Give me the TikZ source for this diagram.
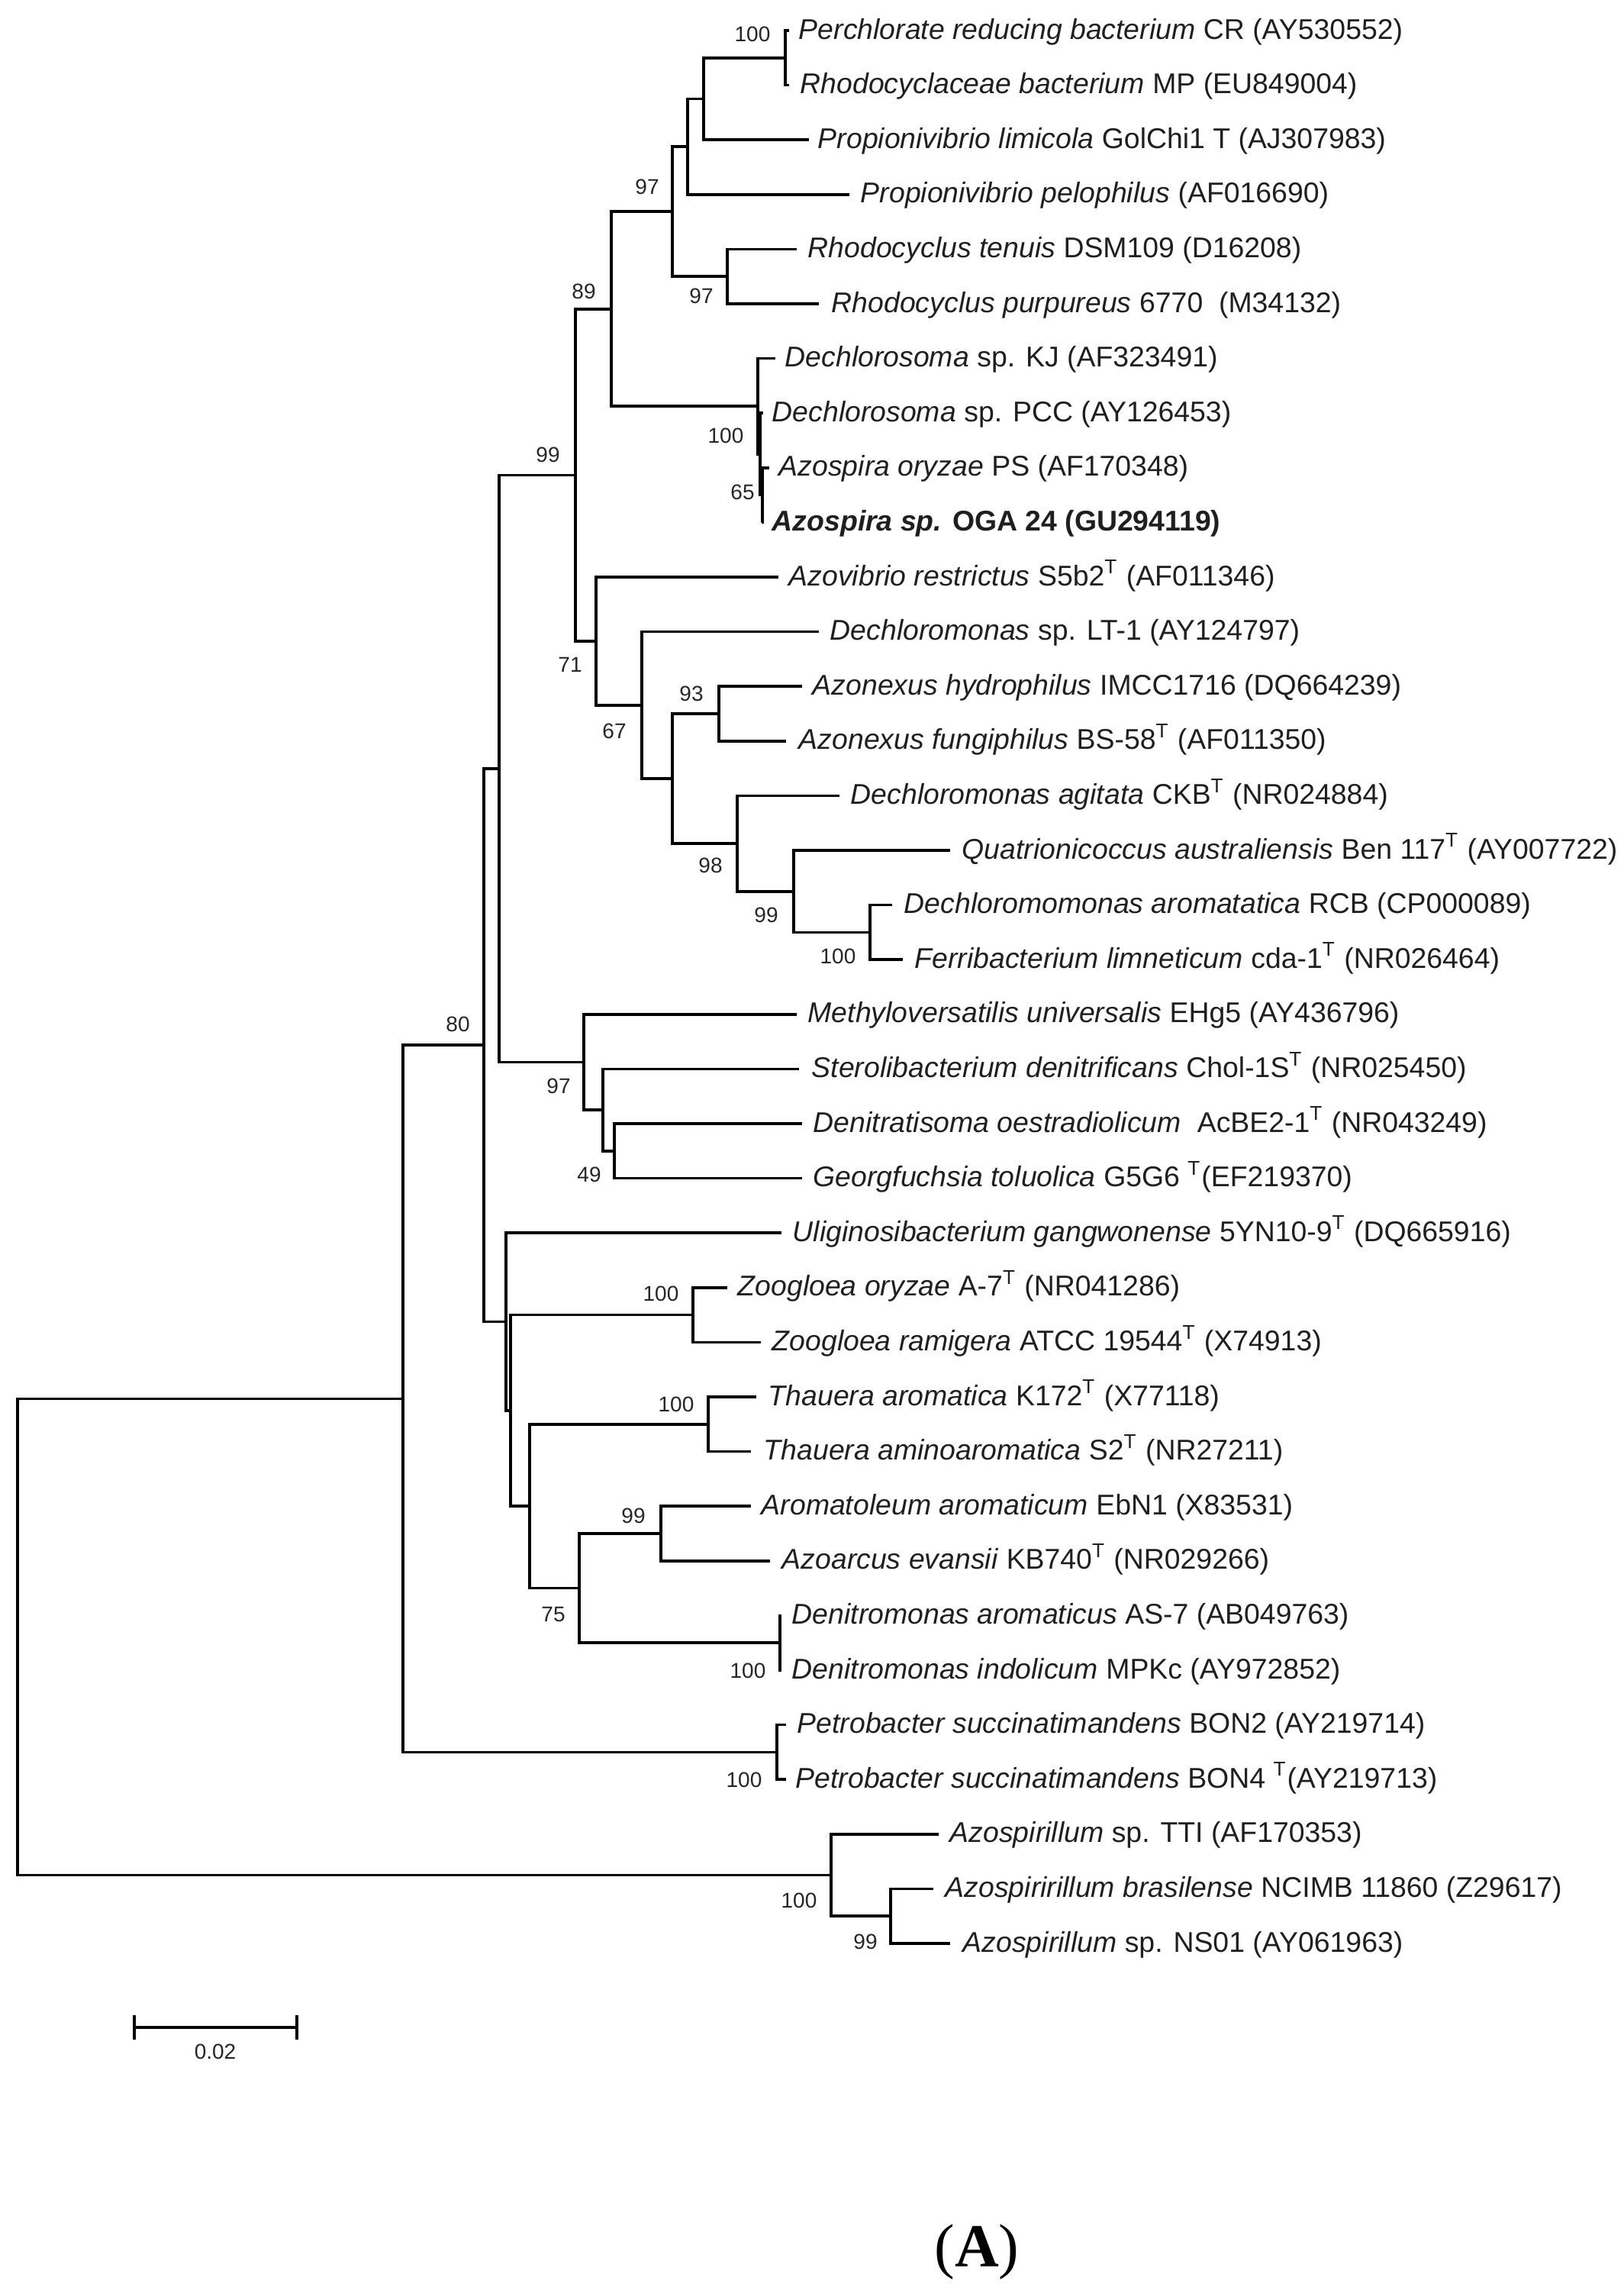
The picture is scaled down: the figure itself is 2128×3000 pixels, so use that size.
\documentclass[tikz,border=0pt]{standalone}
\usepackage{fontspec}
\setmainfont{Liberation Sans}
\newfontfamily\serifA{Liberation Serif}
\newcommand\leaffont{\fontsize{9.35}{11}\selectfont}
\newcommand\bsfont{\fontsize{7}{8}\selectfont}
\newcommand\supT{\textsuperscript{T}}
\begin{document}
\begin{tikzpicture}[x={(0.25pt,0)},y={(0,-0.25pt)},
  br/.style={line width=0.9pt,black},
  lbl/.style={anchor=west,inner sep=0pt,font=\leaffont,text=black!88,text height=0.75em,text depth=0.2em},
  bs/.style={inner sep=0pt,font=\bsfont,text=black!85}]
\useasboundingbox (0,0) rectangle (2128,3000);
% leaf tips
\coordinate (l0) at (1034,40);
\coordinate (l1) at (1034,111.6);
\coordinate (l2) at (1060,183.2);
\coordinate (l3) at (1113,254.8);
\coordinate (l4) at (1044,326.4);
\coordinate (l5) at (1073,398);
\coordinate (l6) at (1016,469.6);
\coordinate (l7) at (1000,541.2);
\coordinate (l8) at (1008,612.8);
\coordinate (l9) at (998,684.4);
\coordinate (l10) at (1020,756);
\coordinate (l11) at (1073,827.6);
\coordinate (l12) at (1051,899.2);
\coordinate (l13) at (1030,970.8);
\coordinate (l14) at (1100,1042.4);
\coordinate (l15) at (1245,1114);
\coordinate (l16) at (1169,1185.6);
\coordinate (l17) at (1183,1257.2);
\coordinate (l18) at (1044,1328.8);
\coordinate (l19) at (1047,1400.4);
\coordinate (l20) at (1051,1472);
\coordinate (l21) at (1051,1543.6);
\coordinate (l22) at (1024,1615.2);
\coordinate (l23) at (953,1686.8);
\coordinate (l24) at (997,1758.4);
\coordinate (l25) at (991,1830);
\coordinate (l26) at (984,1901.6);
\coordinate (l27) at (984,1973.2);
\coordinate (l28) at (1009,2044.8);
\coordinate (l29) at (1024,2116.4);
\coordinate (l30) at (1024,2188);
\coordinate (l31) at (1030,2259.6);
\coordinate (l32) at (1030,2331.2);
\coordinate (l33) at (1230,2402.8);
\coordinate (l34) at (1223,2474.4);
\coordinate (l35) at (1245,2546);
% internal nodes
\coordinate (n1) at (1029,75.8);
\coordinate (n2) at (922,129.5);
\coordinate (n3) at (901,192.15);
\coordinate (n4) at (953,362.2);
\coordinate (n5) at (881,277.2);
\coordinate (n6c) at (999,648.6);
\coordinate (n6b) at (996,594.9);
\coordinate (n6) at (993,532.25);
\coordinate (n7) at (801,404.7);
\coordinate (n8) at (942,935);
\coordinate (n9) at (1140,1221.4);
\coordinate (n10) at (1040,1167.7);
\coordinate (n11) at (966,1105.05);
\coordinate (n12) at (881,1020);
\coordinate (n13) at (841,923.8);
\coordinate (n14) at (781,839.9);
\coordinate (n15) at (754,622.3);
\coordinate (n16) at (805,1507.8);
\coordinate (n17) at (790,1454.1);
\coordinate (n18) at (765,1391.45);
\coordinate (n19) at (654,1006.9);
\coordinate (n20) at (908,1722.6);
\coordinate (n21) at (928,1865.8);
\coordinate (n22) at (866,2009);
\coordinate (n23) at (1022,2152.2);
\coordinate (n24) at (759,2080.6);
\coordinate (n25) at (694,1973.2);
\coordinate (n26) at (669,1847.9);
\coordinate (n27) at (663,1731.55);
\coordinate (n28) at (634,1369.2);
\coordinate (n29) at (1018,2295.4);
\coordinate (n30) at (528,1832.3);
\coordinate (n31) at (1167,2510.2);
\coordinate (n32) at (1089,2456.5);
\coordinate (root) at (23,2144.4);
% branches
\foreach \p/\c in {n1/l0,n1/l1,n2/n1,n2/l2,n3/n2,n3/l3,n4/l4,n4/l5,n5/n3,n5/n4,
  n6c/l8,n6c/l9,n6b/l7,n6b/n6c,n6/l6,n6/n6b,n7/n5,n7/n6,
  n8/l12,n8/l13,n9/l16,n9/l17,n10/l15,n10/n9,n11/l14,n11/n10,n12/n8,n12/n11,
  n13/l11,n13/n12,n14/l10,n14/n13,n15/n7,n15/n14,
  n16/l20,n16/l21,n17/l19,n17/n16,n18/l18,n18/n17,n19/n15,n19/n18,
  n20/l23,n20/l24,n21/l25,n21/l26,n22/l27,n22/l28,n23/l29,n23/l30,
  n24/n22,n24/n23,n25/n21,n25/n24,n26/n20,n26/n25,n27/l22,n27/n26,
  n28/n19,n28/n27,n29/l31,n29/l32,n30/n28,n30/n29,
  n31/l34,n31/l35,n32/l33,n32/n31,root/n30,root/n32}
  \draw[br] (\p) |- (\c);
% leaf labels
\node[lbl] (t0) at (1046,40) {\textit{Perchlorate reducing bacterium} CR (AY530552)};
\node[lbl] (t1) at (1048,111.6) {\textit{Rhodocyclaceae bacterium} MP (EU849004)};
\node[lbl] (t2) at (1071,183.2) {\textit{Propionivibrio limicola} GolChi1 T (AJ307983)};
\node[lbl] (t3) at (1127,254.8) {\textit{Propionivibrio pelophilus} (AF016690)};
\node[lbl] (t4) at (1058,326.4) {\textit{Rhodocyclus tenuis} DSM109 (D16208)};
\node[lbl] (t5) at (1089,398) {\textit{Rhodocyclus purpureus} 6770\ \ (M34132)};
\node[lbl] (t6) at (1028,469.6) {\textit{Dechlorosoma} sp. KJ (AF323491)};
\node[lbl] (t7) at (1011,541.2) {\textit{Dechlorosoma} sp. PCC (AY126453)};
\node[lbl] (t8) at (1020,612.8) {\textit{Azospira oryzae} PS (AF170348)};
\node[lbl] (t9) at (1011,684.4) {\textbf{\textit{Azospira sp.} OGA 24 (GU294119)}};
\node[lbl] (t10) at (1033,756) {\textit{Azovibrio restrictus} S5b2\supT{} (AF011346)};
\node[lbl] (t11) at (1087,827.6) {\textit{Dechloromonas} sp. LT-1 (AY124797)};
\node[lbl] (t12) at (1064,899.2) {\textit{Azonexus hydrophilus} IMCC1716 (DQ664239)};
\node[lbl] (t13) at (1046,970.8) {\textit{Azonexus fungiphilus} BS-58\supT{} (AF011350)};
\node[lbl] (t14) at (1114,1042.4) {\textit{Dechloromonas agitata} CKB\supT{} (NR024884)};
\node[lbl] (t15) at (1260,1114) {\textit{Quatrionicoccus australiensis} Ben 117\supT{} (AY007722)};
\node[lbl] (t16) at (1184,1185.6) {\textit{Dechloromomonas aromatatica} RCB (CP000089)};
\node[lbl] (t17) at (1198,1257.2) {\textit{Ferribacterium limneticum} cda-1\supT{} (NR026464)};
\node[lbl] (t18) at (1058,1328.8) {\textit{Methyloversatilis universalis} EHg5 (AY436796)};
\node[lbl] (t19) at (1063,1400.4) {\textit{Sterolibacterium denitrificans} Chol-1S\supT{} (NR025450)};
\node[lbl] (t20) at (1065,1472) {\textit{Denitratisoma oestradiolicum}\ \ AcBE2-1\supT{} (NR043249)};
\node[lbl] (t21) at (1065,1543.6) {\textit{Georgfuchsia toluolica} G5G6 \supT(EF219370)};
\node[lbl] (t22) at (1038,1615.2) {\textit{Uliginosibacterium gangwonense} 5YN10-9\supT{} (DQ665916)};
\node[lbl] (t23) at (966,1686.8) {\textit{Zoogloea oryzae} A-7\supT{} (NR041286)};
\node[lbl] (t24) at (1011,1758.4) {\textit{Zoogloea ramigera} ATCC 19544\supT{} (X74913)};
\node[lbl] (t25) at (1006,1830) {\textit{Thauera aromatica} K172\supT{} (X77118)};
\node[lbl] (t26) at (1000,1901.6) {\textit{Thauera aminoaromatica} S2\supT{} (NR27211)};
\node[lbl] (t27) at (997,1973.2) {\textit{Aromatoleum aromaticum} EbN1 (X83531)};
\node[lbl] (t28) at (1024,2044.8) {\textit{Azoarcus evansii} KB740\supT{} (NR029266)};
\node[lbl] (t29) at (1037,2116.4) {\textit{Denitromonas aromaticus} AS-7 (AB049763)};
\node[lbl] (t30) at (1037,2188) {\textit{Denitromonas indolicum} MPKc (AY972852)};
\node[lbl] (t31) at (1044,2259.6) {\textit{Petrobacter succinatimandens} BON2 (AY219714)};
\node[lbl] (t32) at (1042,2331.2) {\textit{Petrobacter succinatimandens} BON4 \supT(AY219713)};
\node[lbl] (t33) at (1244,2402.8) {\textit{Azospirillum} sp. TTI (AF170353)};
\node[lbl] (t34) at (1238,2474.4) {\textit{Azospiririllum brasilense} NCIMB 11860 (Z29617)};
\node[lbl] (t35) at (1261,2546) {\textit{Azospirillum} sp. NS01 (AY061963)};
% bootstrap values
\node[bs] (b1) at (986,45) {100};
\node[bs] (b5) at (848,245) {97};
\node[bs] (b4) at (919,388) {97};
\node[bs] (b7) at (765,382) {89};
\node[bs] (b6b) at (951,571) {100};
\node[bs] (b6c) at (973,645) {65};
\node[bs] (b15) at (718,596) {99};
\node[bs] (b14) at (747,871) {71};
\node[bs] (b13) at (805,958) {67};
\node[bs] (b8) at (906,909) {93};
\node[bs] (b11) at (931,1134) {98};
\node[bs] (b10) at (1004,1199) {99};
\node[bs] (b9) at (1098,1253) {100};
\node[bs] (b28) at (600,1342) {80};
\node[bs] (b18) at (732,1423) {97};
\node[bs] (b16) at (772,1539) {49};
\node[bs] (b20) at (866,1695) {100};
\node[bs] (b21) at (886,1840) {100};
\node[bs] (b22) at (830,1986) {99};
\node[bs] (b24) at (725,2115) {75};
\node[bs] (b23) at (980,2189) {100};
\node[bs] (b29) at (975,2332) {100};
\node[bs] (b32) at (1047,2490) {100};
\node[bs] (b31) at (1134,2544) {99};
% scale bar
\coordinate (sbl) at (176,2656);
\coordinate (sbr) at (389,2656);
\coordinate (sblt) at (176,2640);
\coordinate (sblb) at (176,2672);
\coordinate (sbrt) at (389,2640);
\coordinate (sbrb) at (389,2672);
\draw[br] (sbl) -- (sbr);
\draw[br] (sblt) -- (sblb);
\draw[br] (sbrt) -- (sbrb);
\node[bs] (sbt) at (282,2688) {0.02};
% panel label
\node[inner sep=0pt] (panel) at (1280,2950) {\serifA\fontsize{20}{24}\selectfont (\textbf{A})};
\end{tikzpicture}
\end{document}
